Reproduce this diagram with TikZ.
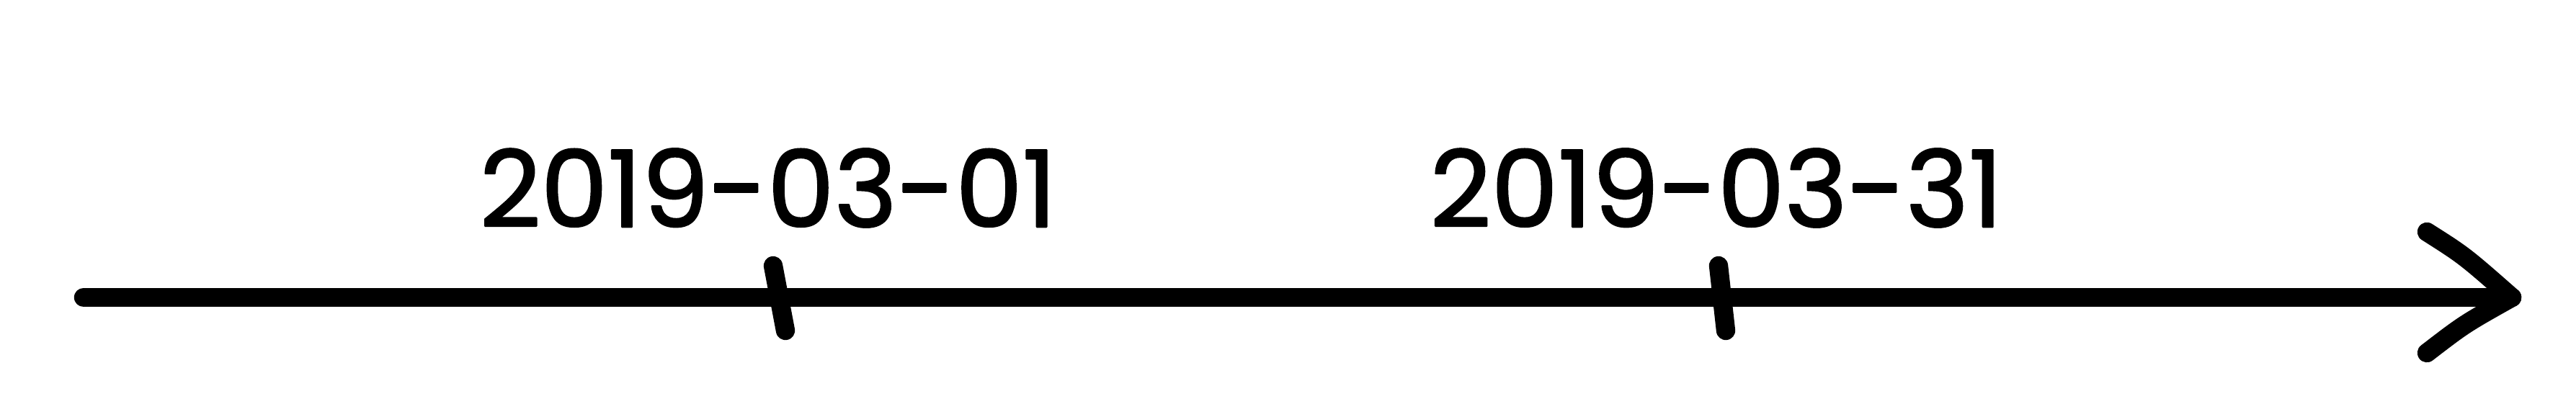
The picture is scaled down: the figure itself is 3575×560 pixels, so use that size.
\documentclass[tikz,border=0pt]{standalone}
\usepackage{fontspec}
\setmainfont[FakeBold=1.6]{Poppins}
\begin{document}
\begin{tikzpicture}[x=0.01cm,y=-0.01cm, line cap=round, line join=round,
  stroke/.style={line width=7.5pt, black},
  datelabel/.style={font=\fontsize{42}{45}\selectfont, inner sep=0pt, anchor=center}]
\useasboundingbox (0,0) rectangle (3575,560);
\coordinate (start) at (116,413);
\coordinate (tip) at (3486,413);
\coordinate (armU) at (3368,322);
\coordinate (armL) at (3368,490);
\coordinate (t1a) at (1073,369);
\coordinate (t1b) at (1090,459);
\coordinate (t2a) at (2385,369);
\coordinate (t2b) at (2395,459);
\node[datelabel] (d1) at (1066,261) {2019-03-01};
\node[datelabel] (d2) at (2382,261) {2019-03-31};
\draw[stroke] (start) -- (tip);
\draw[stroke] (armU) .. controls (3420,355) .. (tip);
\draw[stroke] (armL) .. controls (3420,450) .. (tip);
\draw[stroke] (t1a) -- (t1b);
\draw[stroke] (t2a) -- (t2b);
\end{tikzpicture}
\end{document}
